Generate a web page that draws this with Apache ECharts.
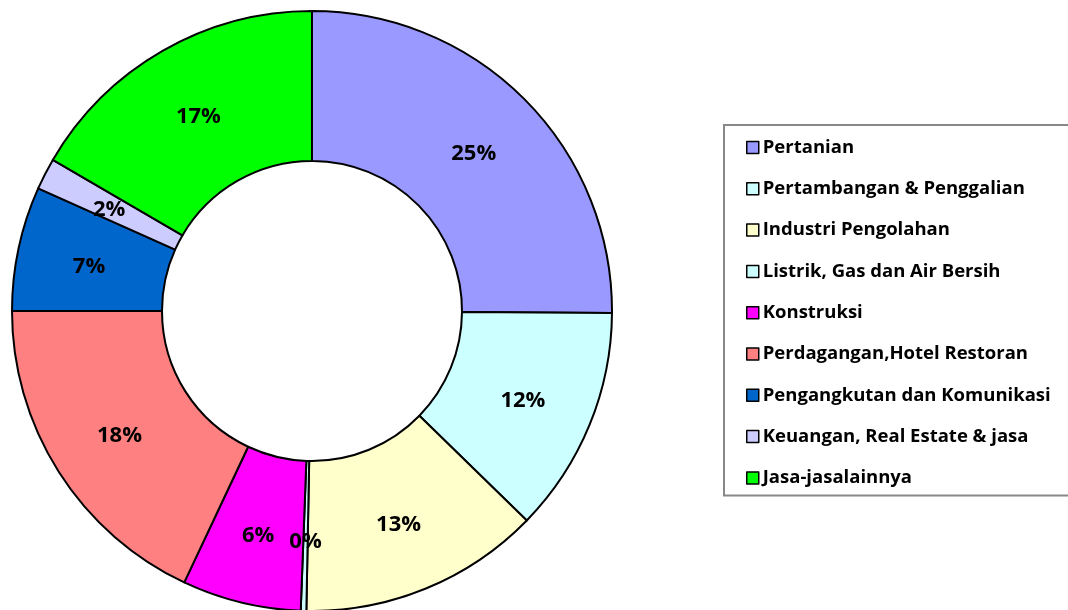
<!DOCTYPE html>
<html>
<head>
<meta charset="utf-8">
<script src="https://cdn.jsdelivr.net/npm/echarts@6/dist/echarts.min.js"></script>
<style>
  html, body { margin: 0; padding: 0; background: #fff; }
  #chart { width: 1068px; height: 610px; }
</style>
</head>
<body>
<div id="chart"></div>
<script>
// sectors and their shares (percent)
const sectors = [
  'Pertanian',
  'Pertambangan & Penggalian',
  'Industri Pengolahan',
  'Listrik, Gas dan Air Bersih',
  'Konstruksi',
  'Perdagangan,Hotel Restoran',
  'Pengangkutan dan Komunikasi',
  'Keuangan, Real Estate & jasa',
  'Jasa-jasalainnya'
];
const shares = [25.1, 12.2, 13.0, 0.3, 6.4, 18.0, 6.7, 1.7, 16.6];
const colors = ['#9999FF', '#CCFFFF', '#FFFFCC', '#CCFFFF', '#FF00FF', '#FF8080', '#0066CC', '#CCCCFF', '#00FF00'];

const chart = echarts.init(document.getElementById('chart'));
const font = '"Open Sans", "Noto Sans", sans-serif';

chart.setOption({
  animation: false,
  color: colors,
  textStyle: { fontFamily: font },
  legend: {
    orient: 'vertical',
    left: 724,
    top: 125,
    padding: [13, 60, 8, 22],
    itemGap: 22.3,
    itemWidth: 12,
    itemHeight: 12,
    icon: 'rect',
    borderColor: '#888',
    borderWidth: 2,
    itemStyle: { borderColor: '#000', borderWidth: 1.5 },
    textStyle: { fontSize: 18.5, lineHeight: 18, fontWeight: 'bold', color: '#000', fontFamily: font, padding: [0, 0, 0, -1] },
    data: sectors
  },
  series: [{
    type: 'pie',
    center: [312, 311],
    radius: [150, 300],
    startAngle: 90,
    clockwise: true,
    avoidLabelOverlap: false,
    itemStyle: { borderColor: '#000', borderWidth: 2 },
    label: {
      show: true,
      position: 'inside',
      color: '#000',
      fontSize: 22,
      fontWeight: 'bold',
      fontFamily: font,
      offset: [0, 3],
      formatter: p => Math.round(p.value) + '%'
    },
    labelLine: { show: false },
    emphasis: { disabled: true },
    data: sectors.map((name, i) => ({ name: name, value: shares[i] }))
  }]
});
</script>
</body>
</html>
